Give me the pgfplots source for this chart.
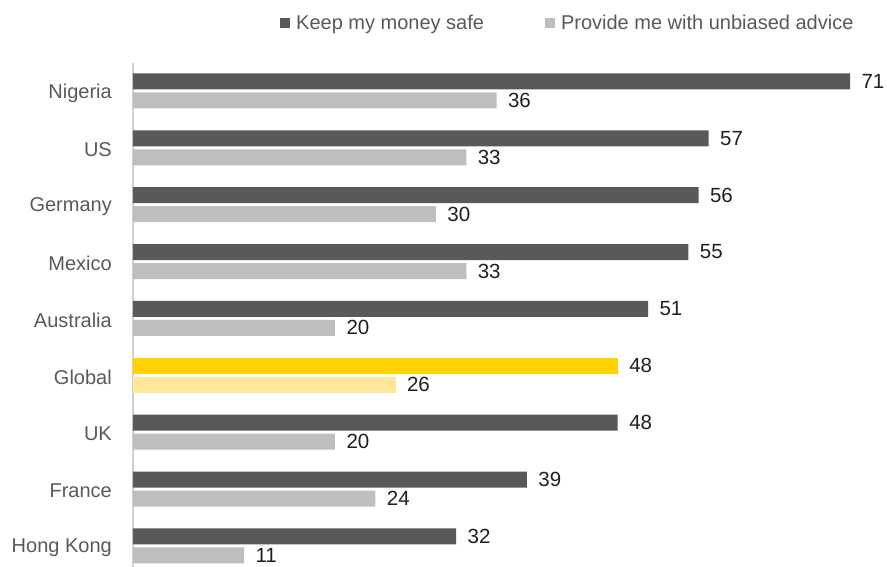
\documentclass[border=0pt]{standalone}
\usepackage{pgfplots}
\pgfplotsset{compat=1.18}
\usepackage{fontspec}
\setmainfont{Liberation Sans}
\definecolor{darkbar}{HTML}{58595B}
\definecolor{lightbar}{HTML}{BEBEC0}
\definecolor{yelbar}{HTML}{FFD200}
\definecolor{yellight}{HTML}{FFE699}
\definecolor{labgray}{HTML}{595959}
\begin{document}
\begin{tikzpicture}
\useasboundingbox (0,0) rectangle (887pt,567pt);
\begin{axis}[
    at={(133pt,0pt)}, anchor=south west,
    scale only axis, width=717pt, height=504pt,
    xbar, bar width=16pt,
    xmin=0, xmax=71,
    ymin=-0.37, ymax=8.49,
    axis x line=none,
    axis y line*=left,
    y axis line style={draw=black!18, line width=1.2pt},
    ytick={0,...,8},
    yticklabels={Hong Kong,France,UK,Global,Australia,Mexico,Germany,US,Nigeria},
    major tick length=0pt,
    yticklabel style={inner sep=0pt, xshift=-21pt, yshift=-2pt, text=labgray, font=\fontsize{20}{23}\selectfont},
    /pgf/number format/assume math mode=true,
    nodes near coords,
    every node near coord/.append style={text=black!88, font=\fontsize{20.5}{23}\selectfont, xshift=8pt},
    clip=false,
    legend style={draw=none, fill=none, at={(0.205,1.079)}, anchor=west, inner sep=0pt,
        font=\fontsize{20}{23}\selectfont, text=labgray,
        /tikz/every odd column/.append style={column sep=4pt},
        /tikz/every even column/.append style={column sep=59pt}},
    legend columns=2,
    legend image code/.code={\fill[#1] (0pt,-5pt) rectangle (10pt,5pt);},
]
\addplot[fill=darkbar, draw=none, bar shift=9.5pt] coordinates {
    (32,0) (39,1) (48,2) (51,4) (55,5) (56,6) (57,7) (71,8)};
\addplot[fill=lightbar, draw=none, bar shift=-9.5pt] coordinates {
    (11,0) (24,1) (20,2) (20,4) (33,5) (30,6) (33,7) (36,8)};
\addplot[fill=yelbar, draw=none, bar shift=9.5pt, forget plot] coordinates {(48,3)};
\addplot[fill=yellight, draw=none, bar shift=-9.5pt, forget plot] coordinates {(26,3)};
\legend{Keep my money safe, Provide me with unbiased advice}
\end{axis}
\end{tikzpicture}
\end{document}
